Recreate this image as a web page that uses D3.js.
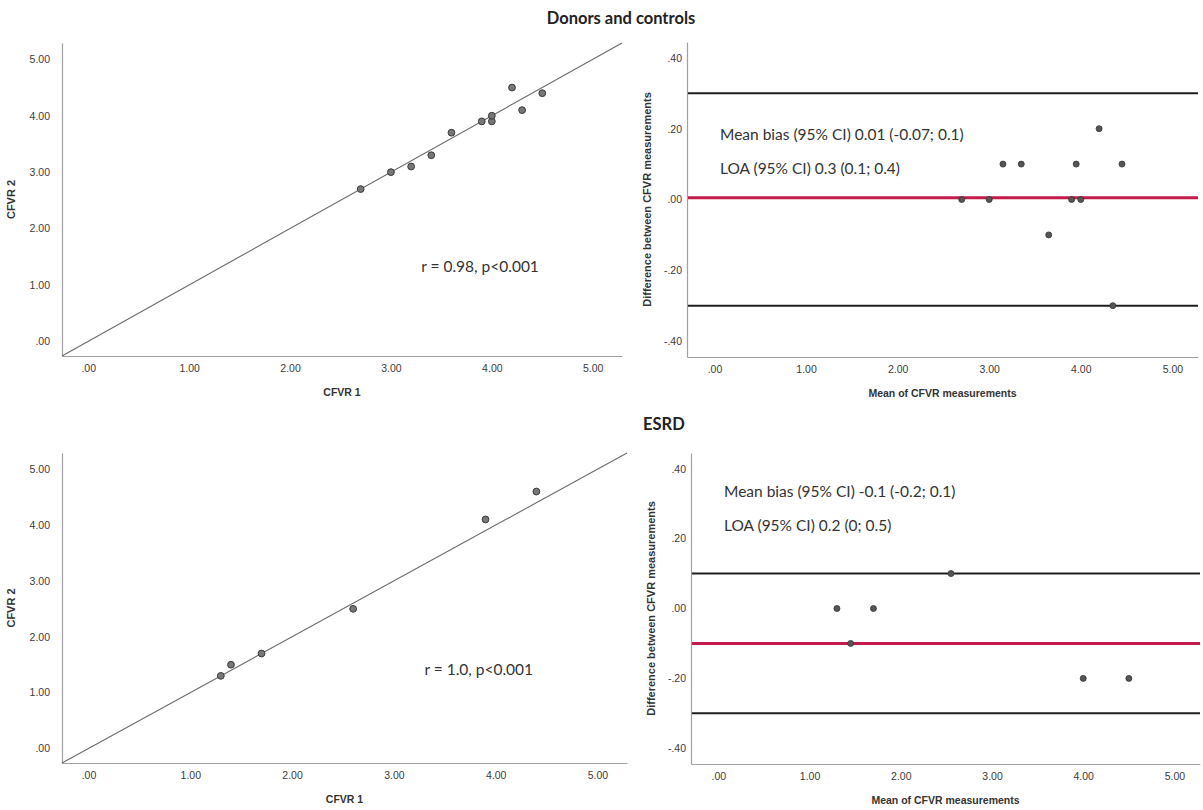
<!DOCTYPE html>
<html>
<head>
<meta charset="utf-8">
<script src="https://cdn.jsdelivr.net/npm/d3@7"></script>
<style>
  body { margin: 0; background: #fff; }
  svg { display: block; }
</style>
</head>
<body>
<svg id="chart" width="1203" height="810"></svg>
<script>
// ---- data ----
// donors and controls: CFVR 1 vs CFVR 2
let dc_cfvr1 = [2.7, 3.0, 3.2, 3.4, 3.6, 3.9, 4.0, 4.0, 4.3, 4.2, 4.5];
let dc_cfvr2 = [2.7, 3.0, 3.1, 3.3, 3.7, 3.9, 3.9, 4.0, 4.1, 4.5, 4.4];
// donors and controls: Bland-Altman
let dc_mean = [2.7, 3.0, 3.15, 3.35, 3.65, 3.9, 3.95, 4.0, 4.2, 4.35, 4.45];
let dc_diff = [0, 0, 0.1, 0.1, -0.1, 0, 0.1, 0, 0.2, -0.3, 0.1];
let dc_lines = {bias: 0.005, upper: 0.30, lower: -0.30};

// ESRD
let esrd_cfvr1 = [1.3, 1.4, 1.7, 2.6, 3.9, 4.4];
let esrd_cfvr2 = [1.3, 1.5, 1.7, 2.5, 4.1, 4.6];
let esrd_mean = [1.3, 1.45, 1.7, 2.55, 4.0, 4.5];
let esrd_diff = [0, -0.1, 0, 0.1, -0.2, -0.2];
let esrd_lines = {bias: -0.1, upper: 0.1, lower: -0.3};

let cfvr_ticks = [0, 1, 2, 3, 4, 5];
let diff_ticks = [-0.4, -0.2, 0, 0.2, 0.4];

let dc_texts = ["Mean bias (95% CI) 0.01 (-0.07; 0.1)", "LOA (95% CI) 0.3 (0.1; 0.4)"];
let esrd_texts = ["Mean bias (95% CI) -0.1 (-0.2; 0.1)", "LOA (95% CI) 0.2 (0; 0.5)"];
let dc_r = "r = 0.98, p<0.001";
let esrd_r = "r = 1.0, p<0.001";

// ---- drawing ----
const svg = d3.select("#chart");
svg.append("rect").attr("width", 1203).attr("height", 810).attr("fill", "#fff");

const tickFont = "'Liberation Sans', Arial, sans-serif";
const noteFont = "Lato, 'Open Sans', sans-serif";
// SPSS style labels: .00, 1.00, -.20
let spss = d => (+d).toFixed(2).replace(/^(-?)0\./, "$1.");

function draw_axes(g, x, y, ypad, xlabel, ylabel, ylabel_x) {
    let w = x.range()[1], h = y.range()[0];
    g.append("g")
        .attr("transform", "translate(0," + h + ")")
        .call(d3.axisBottom(x).tickValues(cfvr_ticks).tickSize(0).tickSizeOuter(0).tickPadding(9).tickFormat(spss));
    g.append("g")
        .call(d3.axisLeft(y).tickValues(ylabel === "CFVR 2" ? cfvr_ticks : diff_ticks)
            .tickSize(0).tickSizeOuter(0).tickPadding(ypad).tickFormat(spss));
    g.selectAll(".domain").attr("stroke", "#a0a0a0").attr("stroke-width", 1.2);
    g.selectAll(".tick text")
        .style("font-family", tickFont).style("font-size", "10.5px").attr("fill", "#3a3a3a");

    g.append("text")
        .attr("x", w / 2).attr("y", h + 40)
        .attr("text-anchor", "middle")
        .style("font-family", tickFont).style("font-size", "10.5px").style("font-weight", "bold")
        .attr("fill", "#333")
        .text(xlabel);
    g.append("text")
        .attr("transform", "translate(" + ylabel_x + "," + (h / 2) + ") rotate(-90)")
        .attr("text-anchor", "middle")
        .style("font-family", tickFont).style("font-size", "11px").style("font-weight", "bold")
        .attr("fill", "#333")
        .text(ylabel);
}

function draw_scatter(box, xs, ys, rtext) {
    let g = svg.append("g").attr("transform", "translate(" + box.left + "," + box.top + ")");
    let x = d3.scaleLinear().domain([-0.26, 5.29]).range([0, box.right - box.left]);
    let y = d3.scaleLinear().domain([-0.26, 5.29]).range([box.bottom - box.top, 0]);

    draw_axes(g, x, y, 12, "CFVR 1", "CFVR 2", -47);

    let lo = Math.max(x.domain()[0], y.domain()[0]);
    let hi = Math.min(x.domain()[1], y.domain()[1]);
    g.append("path")
        .datum([lo, hi])
        .attr("d", d3.line().x(d => x(d)).y(d => y(d)))
        .attr("stroke", "#6a6a6a").attr("stroke-width", 1.1).attr("fill", "none");

    g.selectAll("circle").data(xs).join("circle")
        .attr("cx", d => x(d))
        .attr("cy", (d, i) => y(ys[i]))
        .attr("r", 3.4)
        .attr("fill", "#777")
        .attr("stroke", "#3a3a3a")
        .attr("stroke-width", 1);

    g.append("text")
        .attr("x", x(3.3)).attr("y", box.rtext_y - box.top)
        .style("font-family", noteFont).style("font-size", "15.5px")
        .attr("fill", "#333")
        .text(rtext);
}

function draw_bland(box, means, diffs, lines, texts) {
    let g = svg.append("g").attr("transform", "translate(" + box.left + "," + box.top + ")");
    let x = d3.scaleLinear().domain([-0.3, 5.28]).range([0, box.right - box.left]);
    let y = d3.scaleLinear().domain([-0.445, 0.445]).range([box.bottom - box.top, 0]);

    draw_axes(g, x, y, 5, "Mean of CFVR measurements", "Difference between CFVR measurements", -36);

    let hl = [
        {v: lines.upper, c: "#1e1e1e", w: 2},
        {v: lines.lower, c: "#1e1e1e", w: 2},
        {v: lines.bias, c: "#c41a4c", w: 3}
    ];
    g.selectAll("line.ref").data(hl).join("line")
        .attr("class", "ref")
        .attr("x1", 1).attr("x2", x.range()[1])
        .attr("y1", d => y(d.v)).attr("y2", d => y(d.v))
        .attr("stroke", d => d.c).attr("stroke-width", d => d.w);

    g.selectAll("circle").data(means).join("circle")
        .attr("cx", d => x(d))
        .attr("cy", (d, i) => y(diffs[i]))
        .attr("r", 3)
        .attr("fill", "#555")
        .attr("stroke", "#333")
        .attr("stroke-width", 0.8);

    g.selectAll("text.note").data(texts).join("text")
        .attr("class", "note")
        .attr("x", 33)
        .attr("y", (d, i) => box.note_y - box.top + 34 * i)
        .style("font-family", noteFont).style("font-size", "15.5px")
        .attr("fill", "#333")
        .text(d => d);
}

// titles
svg.append("text")
    .attr("x", 621).attr("y", 24)
    .attr("text-anchor", "middle")
    .style("font-family", noteFont).style("font-size", "16.5px").style("font-weight", "bold")
    .attr("fill", "#222")
    .text("Donors and controls");
svg.append("text")
    .attr("x", 643).attr("y", 430)
    .style("font-family", noteFont).style("font-size", "16.5px").style("font-weight", "bold")
    .attr("fill", "#222")
    .text("ESRD");

draw_scatter({left: 62, right: 622, top: 43, bottom: 356, rtext_y: 272}, dc_cfvr1, dc_cfvr2, dc_r);
draw_bland({left: 687, right: 1198, top: 42, bottom: 357, note_y: 140}, dc_mean, dc_diff, dc_lines, dc_texts);
draw_scatter({left: 62, right: 627, top: 453, bottom: 763, rtext_y: 675}, esrd_cfvr1, esrd_cfvr2, esrd_r);
draw_bland({left: 691, right: 1200, top: 453, bottom: 764, note_y: 497}, esrd_mean, esrd_diff, esrd_lines, esrd_texts);
</script>
</body>
</html>
